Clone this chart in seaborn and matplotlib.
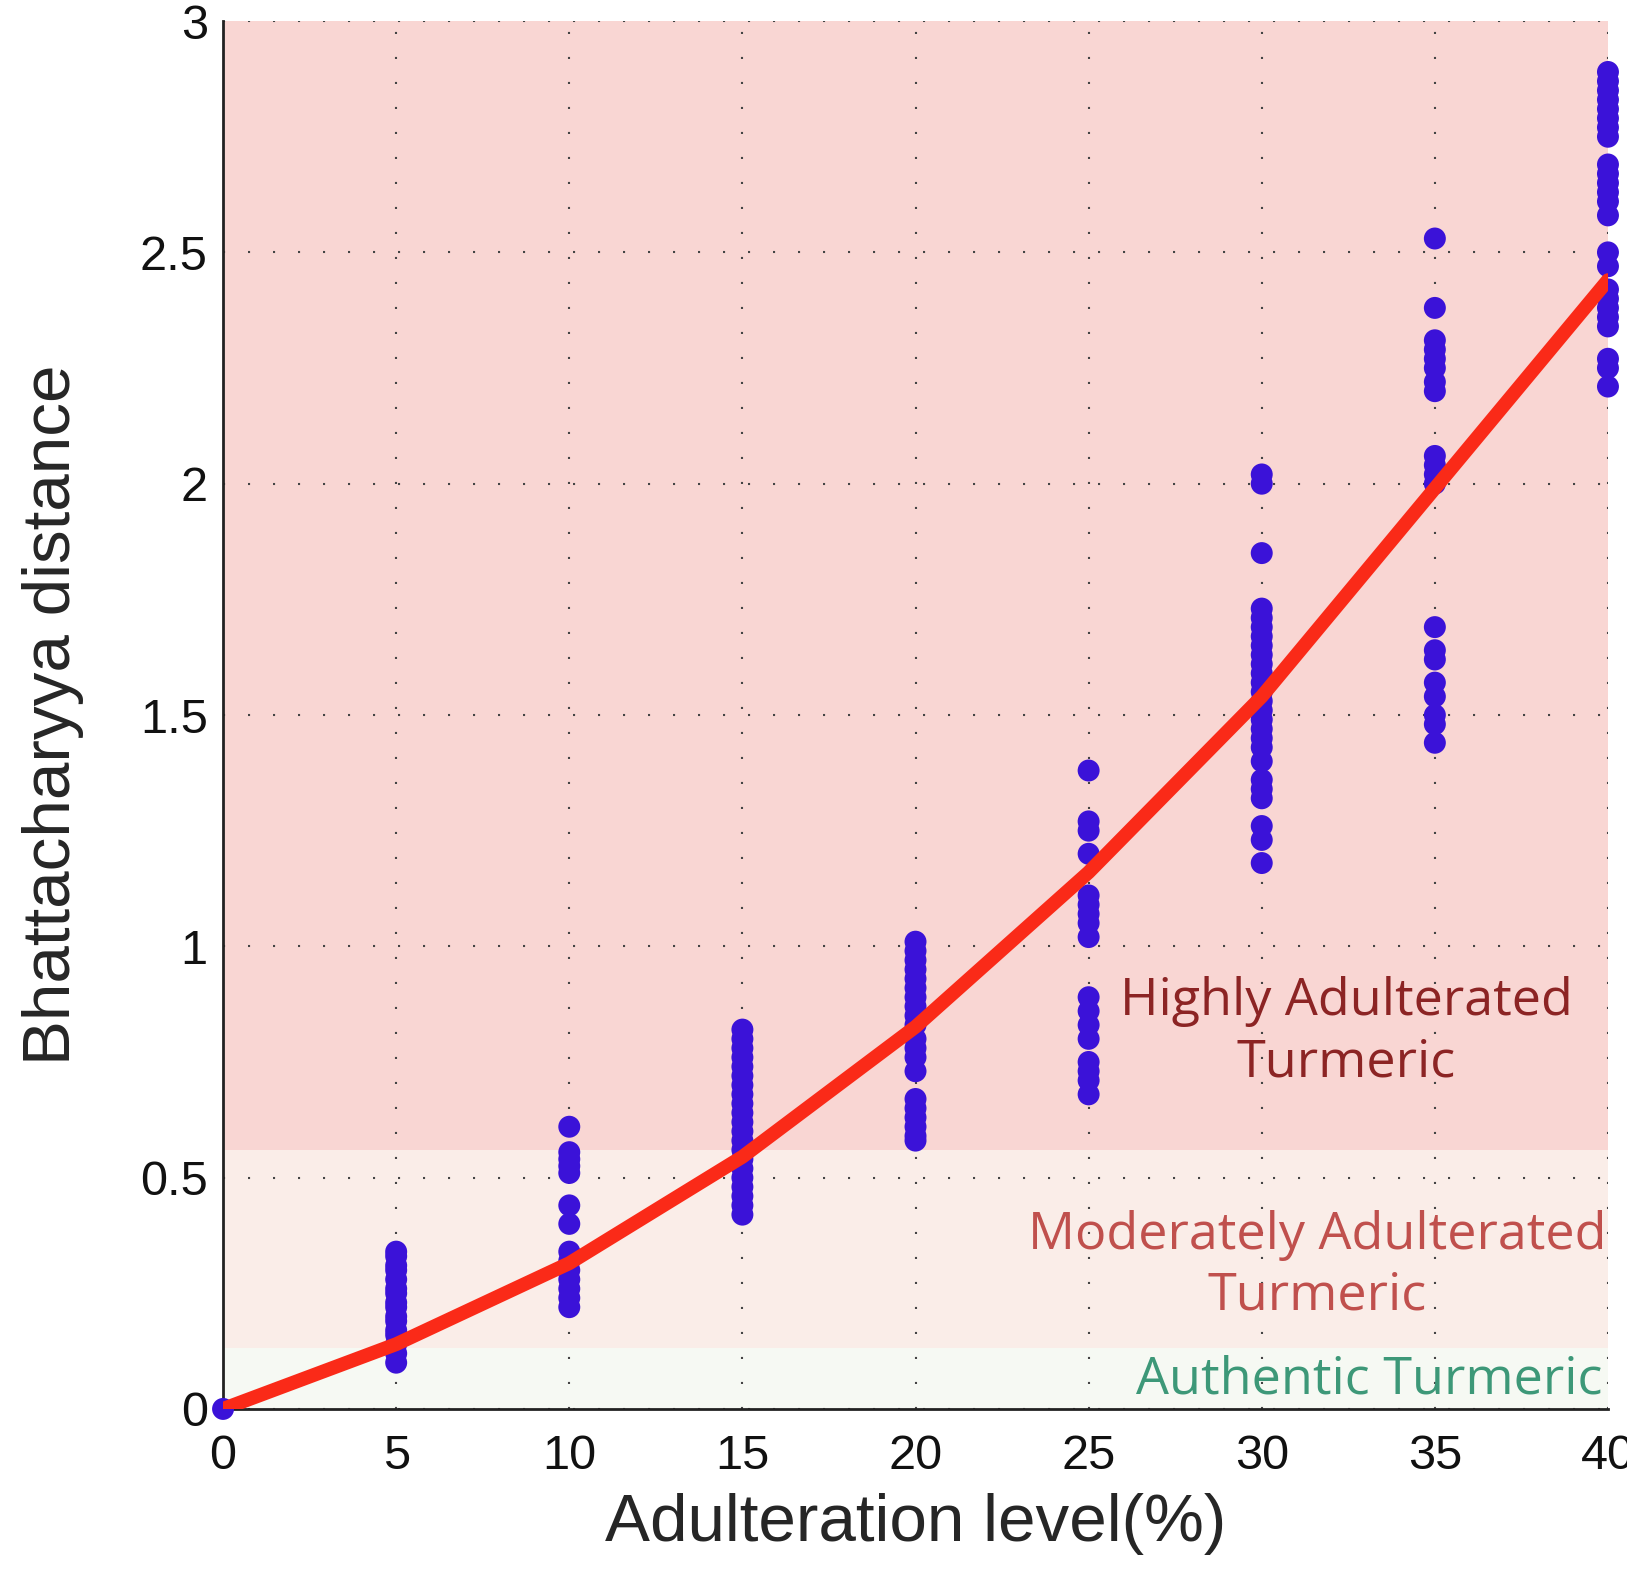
import pandas as pd
import seaborn as sns
import matplotlib.pyplot as plt

# Bhattacharyya distance readings per adulteration level (%)
level_0 = [0.0]
level_5 = [0.34, 0.33, 0.31, 0.30, 0.28, 0.26, 0.25, 0.23, 0.22, 0.20, 0.19, 0.17, 0.16, 0.14, 0.12, 0.10]
level_10 = [0.61, 0.555, 0.54, 0.525, 0.51, 0.44, 0.40, 0.34, 0.32, 0.30, 0.28, 0.26, 0.24, 0.22]
level_15 = [0.82, 0.80, 0.78, 0.76, 0.74, 0.72, 0.70, 0.68, 0.66, 0.64, 0.62, 0.60, 0.58, 0.56,
            0.54, 0.52, 0.50, 0.48, 0.46, 0.44, 0.42]
level_20 = [1.01, 0.99, 0.97, 0.95, 0.93, 0.91, 0.89, 0.87, 0.85, 0.83, 0.80, 0.78, 0.76, 0.73,
            0.67, 0.65, 0.63, 0.61, 0.59, 0.58]
level_25 = [1.38, 1.27, 1.25, 1.20, 1.11, 1.09, 1.07, 1.05, 1.02, 0.89, 0.86, 0.83, 0.80,
            0.75, 0.73, 0.71, 0.68]
level_30 = [2.02, 2.00, 1.85, 1.73, 1.71, 1.69, 1.67, 1.65, 1.63, 1.61, 1.59, 1.57, 1.55, 1.53,
            1.51, 1.49, 1.47, 1.45, 1.43, 1.40, 1.36, 1.34, 1.32, 1.26, 1.23, 1.18]
level_35 = [2.53, 2.38, 2.31, 2.29, 2.27, 2.25, 2.22, 2.20, 2.06, 2.04, 2.02, 2.00,
            1.69, 1.64, 1.62, 1.57, 1.54, 1.50, 1.48, 1.44]
level_40 = [2.89, 2.87, 2.85, 2.83, 2.81, 2.79, 2.77, 2.75, 2.69, 2.67, 2.65, 2.63, 2.61, 2.58,
            2.50, 2.47, 2.42, 2.40, 2.38, 2.36, 2.34, 2.27, 2.25, 2.21]

# fitted curve
curve_x = [0, 5, 10, 15, 20, 25, 30, 35, 40]
curve_y = [0.0, 0.14, 0.315, 0.545, 0.826, 1.16, 1.54, 1.99, 2.44]

# zone boundaries
authentic_top = 0.132
moderate_top = 0.56

x_ticks = [0, 5, 10, 15, 20, 25, 30, 35, 40]
y_ticks = [0, 0.5, 1, 1.5, 2, 2.5, 3]
y_tick_labels = ['0', '0.5', '1', '1.5', '2', '2.5', '3']

levels = {0: level_0, 5: level_5, 10: level_10, 15: level_15, 20: level_20,
          25: level_25, 30: level_30, 35: level_35, 40: level_40}
rows = [(k, v) for k, vals in levels.items() for v in vals]
df = pd.DataFrame(rows, columns=['level', 'distance'])
curve_df = pd.DataFrame({'level': curve_x, 'distance': curve_y})

sns.set_style('white')
plt.rcParams['font.family'] = ['Liberation Sans', 'DejaVu Sans']

fig = plt.figure(figsize=(16.27, 15.73), dpi=100)
ax = fig.add_axes([0.1371, 0.1043, 0.8512, 0.8823])

# background zones
ax.axhspan(0, authentic_top, color='#f6f9f3', zorder=0, lw=0)
ax.axhspan(authentic_top, moderate_top, color='#faede8', zorder=0, lw=0)
ax.axhspan(moderate_top, 3, color='#f9d6d3', zorder=0, lw=0)

sns.scatterplot(data=df, x='level', y='distance', ax=ax, color='#3b12d8', s=250,
                edgecolor='none', linewidth=0, zorder=3, clip_on=False)
sns.lineplot(data=curve_df, x='level', y='distance', ax=ax, color='#fa2a18',
             linewidth=10, zorder=4, solid_capstyle='round')

ax.set_xlim(0, 40)
ax.set_ylim(0, 3)
ax.set_xticks(x_ticks)
ax.set_yticks(y_ticks)
ax.set_yticklabels(y_tick_labels)
ax.set_axisbelow(True)
ax.grid(True, color='#444444', linestyle=(0, (1, 11)), linewidth=1.5, zorder=0.5)

for side in ['top', 'right']:
    ax.spines[side].set_visible(False)
for side in ['left', 'bottom']:
    ax.spines[side].set_color('#222222')
    ax.spines[side].set_linewidth(2)

ax.tick_params(axis='both', direction='in', length=9, width=2, labelsize=35,
               color='#222222', labelcolor='#111111')
ax.tick_params(axis='x', pad=18)
ax.tick_params(axis='y', pad=11)

ax.set_xlabel('Adulteration level(%)', fontsize=48.5, labelpad=10)
ax.set_ylabel('Bhattacharyya distance', fontsize=48.5, labelpad=40)

ax.text(32.45, 0.814, 'Highly Adulterated\nTurmeric', color='#8c2424', fontsize=37.5,
        family=['Open Sans', 'DejaVu Sans'], ha='center', va='center',
        multialignment='center', linespacing=1.25, zorder=5)
ax.text(31.6, 0.31, 'Moderately Adulterated\nTurmeric', color='#c0504d', fontsize=37.5,
        family=['Open Sans', 'DejaVu Sans'], ha='center', va='center',
        multialignment='center', linespacing=1.25, zorder=5)
ax.text(39.85, 0.063, 'Authentic Turmeric', color='#3d9878', fontsize=37.5,
        family=['Open Sans', 'DejaVu Sans'], ha='right', va='center', zorder=5)

fig.savefig('out.png', dpi=100)
